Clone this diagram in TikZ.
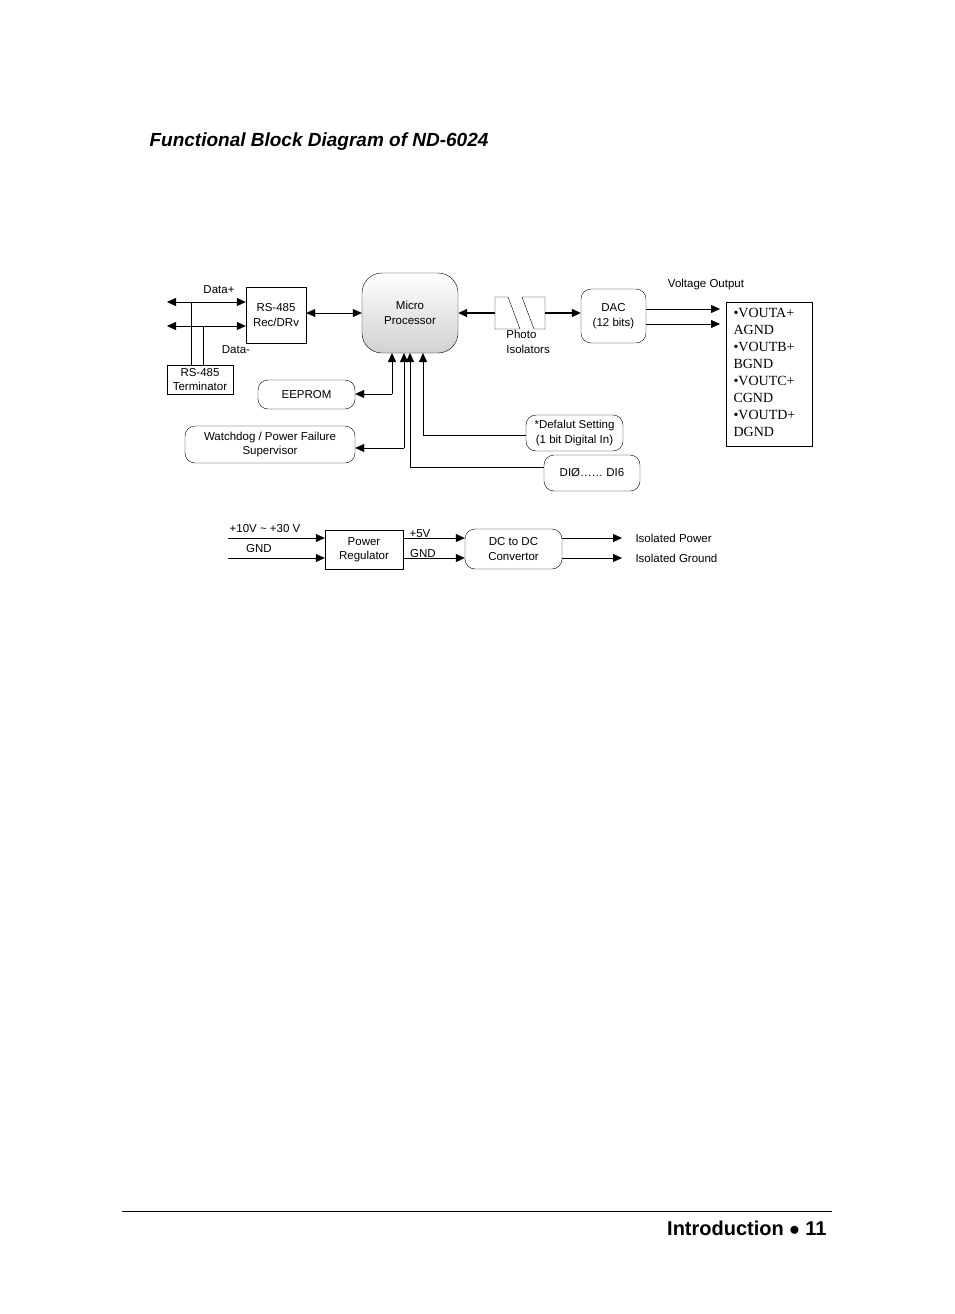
\documentclass[tikz,border=0pt]{standalone}
\usepackage{fontspec}
\setmainfont{Liberation Sans}
\newfontfamily\serifface{Liberation Serif}
\usetikzlibrary{arrows.meta}
\begin{document}
\begin{tikzpicture}[x=1pt,y=-1pt,font=\fontsize{11.5}{14.5}\selectfont,
    plainbox/.style={draw,align=center,inner sep=0pt},
    roundbox/.style={draw,rounded corners=10pt,align=center,inner sep=0pt},
    arr/.style={-{Triangle[length=9pt,width=8pt]}},
    darr/.style={{Triangle[length=9pt,width=8pt]}-{Triangle[length=9pt,width=8pt]}}]
    \useasboundingbox (0,0) rectangle (954,1314);
    \node[anchor=west,font=\fontsize{19}{22}\selectfont\bfseries\itshape] (title) at (146,142) {Functional Block Diagram of ND-6024};

    \begin{scope}
        \node[roundbox,minimum width=96pt,minimum height=80pt,rounded corners=20pt,top color=white,bottom color=black!18] (mp) at (410,313) {Micro\\Processor};
        \node[plainbox,minimum width=60pt,minimum height=56pt] (rs) at (276,315) {RS-485\\Rec/DRv};
        \node[plainbox,minimum width=66pt,minimum height=29pt] (term) at (200,379.5) {RS-485\\Terminator};
        \node[roundbox,minimum width=65pt,minimum height=54pt] (dac) at (613.5,316) {DAC\\(12 bits)};
        \node[plainbox,minimum width=86pt,minimum height=144pt,anchor=north west] (out) at (726,302) {};
        \node[anchor=north west,align=left,font=\serifface\fontsize{14}{17}\selectfont] (outtext) at (730,305)
            {•VOUTA+\\AGND\\•VOUTB+\\BGND\\•VOUTC+\\CGND\\•VOUTD+\\DGND};
        \node[roundbox,minimum width=97pt,minimum height=29pt] (eeprom) at (306.5,394.5) {EEPROM};
        \node[roundbox,minimum width=170pt,minimum height=37pt] (wd) at (270,444.5) {Watchdog / Power Failure\\Supervisor};
        \node[roundbox,minimum width=97pt,minimum height=36pt] (def) at (574.5,433) {*Defalut Setting\\(1 bit Digital In)};
        \node[roundbox,minimum width=96pt,minimum height=36pt] (di) at (592,473) {DIØ…… DI6};
    \end{scope}

    % RS-485 bus
    \coordinate (dpl) at (167,302);
    \coordinate (dml) at (167,326);
    \draw[darr] (dpl) -- (rs.west |- dpl);
    \draw[darr] (dml) -- (rs.west |- dml);
    \draw (191,302) -- (191,365);
    \draw (203,326) -- (203,365);
    \node (dplus) at (219,290) {Data+};
    \node (dminus) at (236,350) {Data-};
    \draw[darr] (rs.east |- 0,313) -- (mp.west);

    % photo isolators
    \draw (495,297) -- (508,297) -- (520,329) -- (495,329) -- cycle;
    \draw (522,297) -- (545,297) -- (545,329) -- (534,329) -- cycle;
    \coordinate (pil) at (495,313);
    \coordinate (pir) at (545,313);
    \draw[arr,line width=1.8pt] (pil) -- (mp.east);
    \draw[arr,line width=1.8pt] (pir) -- (dac.west |- pir);
    \node[align=left] (photo) at (530,342) {Photo\phantom{xxx}\\Isolators};

    % outputs
    \node (vout) at (706,285) {Voltage Output};
    \draw[arr] (dac.east |- 0,309) -- (720,309);
    \draw[arr] (dac.east |- 0,324) -- (720,324);

    % peripherals
    \draw[arr] (392,394) -- (eeprom.east |- 0,394);
    \draw[arr] (392,394) -- (392,353);
    \draw[arr] (404,448) -- (wd.east |- 0,448);
    \draw[arr] (404,448) -- (404,353);
    \draw[arr] (def.west |- 0,435) -- (423,435) -- (423,353);
    \draw[arr] (di.west |- 0,467) -- (410,467) -- (410,353);

    % power section
    \node[plainbox,minimum width=78pt,minimum height=39pt] (reg) at (364,549.5) {Power\\Regulator};
    \node[roundbox,minimum width=97pt,minimum height=40pt] (dcdc) at (513.5,549) {DC to DC\\Convertor};
    \coordinate (pin) at (228,538);
    \coordinate (gin) at (228,558);
    \draw[arr] (pin) -- (reg.west |- pin);
    \draw[arr] (gin) -- (reg.west |- gin);
    \node (vin) at (265,529) {+10V \textasciitilde\ +30 V};
    \node (gndin) at (259,549) {GND};
    \draw[arr] (reg.east |- pin) -- (dcdc.west |- pin);
    \draw[arr] (reg.east |- gin) -- (dcdc.west |- gin);
    \node (v5) at (420,534) {+5V};
    \node (gnd5) at (423,554) {GND};
    \draw[arr] (dcdc.east |- pin) -- (622,538);
    \draw[arr] (dcdc.east |- gin) -- (622,558);
    \node[anchor=west] (isop) at (632,538.5) {Isolated Power};
    \node[anchor=west] (isog) at (632,558.5) {Isolated Ground};

    % footer
    \draw (122,1211) -- (832,1211);
    \node[anchor=east,font=\fontsize{20}{24}\selectfont\bfseries] (foot) at (830,1228) {Introduction $\bullet$ 11};
\end{tikzpicture}
\end{document}
